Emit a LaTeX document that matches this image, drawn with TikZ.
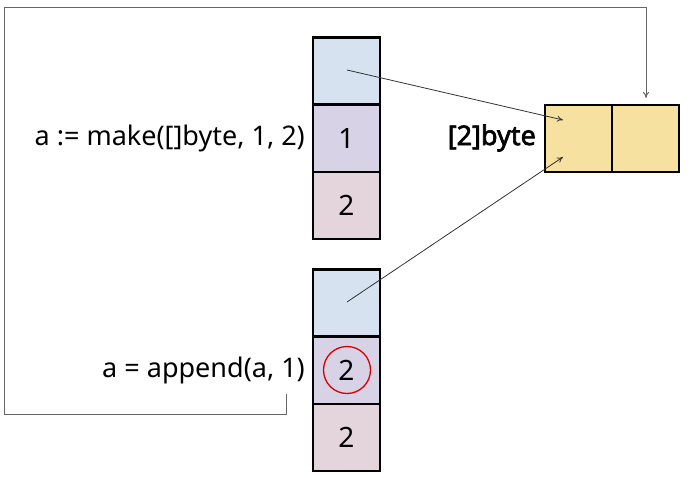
\documentclass[tikz,border=0pt]{standalone}
\usepackage{fontspec}
\setmainfont{Noto Sans}
\newfontfamily\bfnoto{Noto Sans}[FakeBold=2.5]
\usetikzlibrary{arrows.meta}
\definecolor{cblue}{HTML}{D6E2F0}
\definecolor{cpurp}{HTML}{D8D2E6}
\definecolor{cpink}{HTML}{E4D4DC}
\definecolor{cyell}{HTML}{F7E1A0}
\begin{document}
\begin{tikzpicture}[x=1pt,y=-1pt,
  cell/.style={draw=black,line width=2.8pt,minimum width=67pt,minimum height=67pt,inner sep=0pt,font=\fontsize{28}{32}\selectfont},
  lbl/.style={font=\fontsize{27}{32}\selectfont,inner sep=0pt},
  ptr/.style={draw=black!80,line width=0.8pt,-{To[length=6pt,width=6pt]}},
  loopline/.style={draw=black!60,line width=1pt}]
\useasboundingbox (0,0) rectangle (690,478);
% top stack
\node[cell,fill=cblue] (t1) at (346.5,71) {};
\node[cell,fill=cpurp] (t2) at (346.5,138.5) {1};
\node[cell,fill=cpink] (t3) at (346.5,205.5) {2};
% bottom stack
\node[cell,fill=cblue] (b1) at (346.5,303) {};
\node[cell,fill=cpurp] (b2) at (346.5,370.5) {2};
\node[cell,fill=cpink] (b3) at (346.5,437.5) {2};
% array
\node[cell,fill=cyell] (y1) at (578.5,138.5) {};
\node[cell,fill=cyell] (y2) at (645.5,138.5) {};
% labels
\node[lbl,anchor=east] (l1) at (305,138) {a := make([]byte, 1, 2)};
\node[lbl,anchor=east] (l2) at (305,370) {a = append(a, 1)};
\node[lbl,anchor=east] (l3) at (536,138) {\bfnoto [2]byte};
% red circle
\node[draw=red!85!black,line width=1.3pt,circle,minimum size=47pt,inner sep=0pt] (rc) at (347,370) {};
% pointers
\coordinate (p1) at (347,70);
\coordinate (q1) at (563,120);
\coordinate (p2) at (347,302);
\coordinate (q2) at (563,157);
\draw[ptr] (p1) -- (q1);
\draw[ptr] (p2) -- (q2);
% loop
\coordinate (s) at (286,394);
\coordinate (e) at (646,98);
\draw[loopline,-{To[length=6pt,width=6pt]}] (s) -- (286,414) -- (4,414) -- (4,8) -- (646,8) -- (e);
\end{tikzpicture}
\end{document}
